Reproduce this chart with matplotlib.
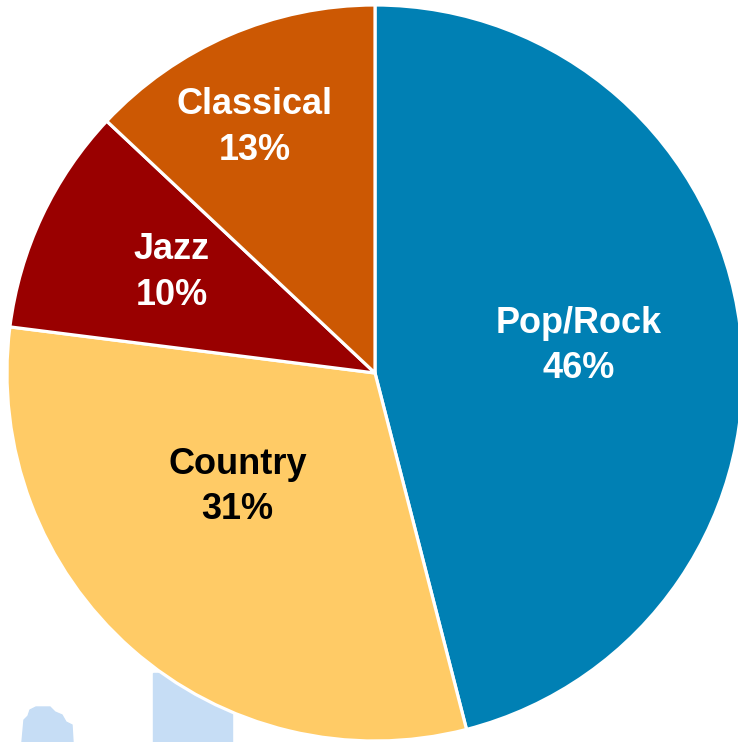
import matplotlib.pyplot as plt
from matplotlib.patches import Rectangle, Polygon
import numpy as np

# Données
genres = ["Pop/Rock", "Country", "Jazz", "Classical"]
parts = [46, 31, 10, 13]
couleurs = ["#0080B4", "#FFCB66", "#990000", "#CC5803"]
couleurs_texte = ["white", "black", "white", "white"]

# Position des étiquettes (fraction du rayon, angle en degrés)
pos_labels = [(0.56, 8.3), (0.48, -141.0), (0.62, 153.0), (0.75, 115.8)]

# Géométrie en pixels de l'image d'origine
W, H = 738, 742
cx, cy, R = 375, 373, 368


def px(x, y):
    return (x - cx) / R, (cy - y) / R


fig = plt.figure(figsize=(W / 100, H / 100), dpi=100)
ax = fig.add_axes([0, 0, 1, 1])

# Restes d'image de fond (bleu clair) derrière le camembert
x0, y0 = px(153, 742)
x1, y1 = px(232, 673)
ax.add_patch(Rectangle((x0, y0), x1 - x0, y1 - y0, color="#C6DDF5", zorder=0))
blob = [(22, 742), (24, 720), (28, 716), (30, 710), (36, 707), (50, 707),
        (55, 712), (62, 715), (66, 722), (72, 725), (73, 742)]
ax.add_patch(Polygon([px(a, b) for a, b in blob], closed=True,
                     color="#C6DDF5", zorder=0))

ax.pie(parts, colors=couleurs, startangle=90, counterclock=False, radius=1,
       wedgeprops=dict(edgecolor="white", linewidth=2.3))

decal = 3 / R  # léger décalage vers le bas des étiquettes
for g, p, c, (r, a) in zip(genres, parts, couleurs_texte, pos_labels):
    t = np.deg2rad(a)
    ax.text(r * np.cos(t), r * np.sin(t) - decal, f"{g}\n{p}%",
            ha="center", va="center", color=c, fontsize=26,
            fontweight="bold", family="Liberation Sans", linespacing=1.38)

ax.set_xlim(-cx / R, (W - cx) / R)
ax.set_ylim(-(H - cy) / R, cy / R)
ax.set_aspect("auto")
ax.axis("off")

fig.savefig("out.png", dpi=100)
